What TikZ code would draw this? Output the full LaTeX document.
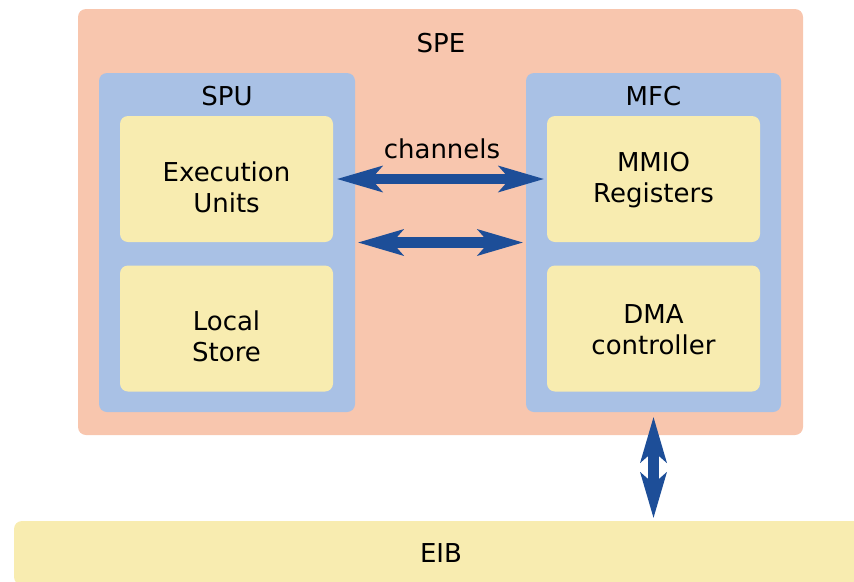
\documentclass[tikz,border=0pt]{standalone}
\usepackage{fontspec}
\setmainfont{DejaVu Sans}
\usetikzlibrary{arrows.meta}

\definecolor{speFill}{HTML}{F8C6AE}
\definecolor{unitFill}{HTML}{A9C1E5}
\definecolor{partFill}{HTML}{F8ECB0}
\definecolor{arrowBlue}{HTML}{1D4E98}

\tikzset{
  box/.style={rectangle, rounded corners=8pt, inner sep=0pt, draw=none},
  outerbox/.style={box, fill=speFill},
  unitbox/.style={box, fill=unitFill},
  partbox/.style={box, fill=partFill, minimum width=213pt, minimum height=126pt},
  txt/.style={font=\fontsize{26}{31}\selectfont, inner sep=0pt, align=center},
  bus/.style={line width=10.5pt, draw=arrowBlue,
    {Stealth[length=46pt, width=27pt, inset=12pt, line width=0pt]}-{Stealth[length=46pt, width=27pt, inset=12pt, line width=0pt]}}
}

\begin{document}
\begin{tikzpicture}[x=1pt, y=-1pt]
  \useasboundingbox (0,0) rectangle (854,581);
  \clip (0,0) rectangle (854,581);

  % Synergistic processor element and its two units
  \node[outerbox, minimum width=725pt, minimum height=426pt] (spe) at (440.5,222) {};
  \node[txt] (spelabel) at (441,43) {SPE};

  \node[unitbox, minimum width=256pt, minimum height=339pt] (spu) at (227,242.5) {};
  \node[txt] (spulabel) at (227,96) {SPU};

  \node[unitbox, minimum width=255pt, minimum height=339pt] (mfc) at (653.5,242.5) {};
  \node[txt] (mfclabel) at (653.5,96) {MFC};

  % Parts inside the units
  \node[partbox] (exec)  at (226.5,179)   {};
  \node[partbox] (store) at (226.5,328.5) {};
  \node[partbox] (mmio)  at (653.5,179)   {};
  \node[partbox] (dma)   at (653.5,328.5) {};
  \node[txt] (exectext)  at ([yshift=-8pt]exec.center)  {Execution\\Units};
  \node[txt] (storetext) at ([yshift=-8pt]store.center) {Local\\Store};
  \node[txt] (mmiotext)  at ([yshift=-1pt]mmio.center)  {MMIO\\Registers};
  \node[txt] (dmatext)   at ([yshift=-1pt]dma.center)   {DMA\\controller};

  % Element interconnect bus
  \node[box, fill=partFill, minimum width=854pt, minimum height=64pt] (eib) at (441,553) {};
  \node[txt] (eiblabel) at (441,553) {EIB};

  % Connections
  \node[txt] (chanlabel) at (442,149) {channels};
  \draw[bus] ([xshift=4pt]exec.east) -- ([xshift=-3pt]mmio.west);
  \draw[bus] ([xshift=3pt]spu.east) -- ([xshift=-3pt]mfc.west);
  \draw[bus] ([yshift=-5pt]mfc.south) -- ([yshift=3pt]mfc.south |- eib.north);
\end{tikzpicture}
\end{document}
